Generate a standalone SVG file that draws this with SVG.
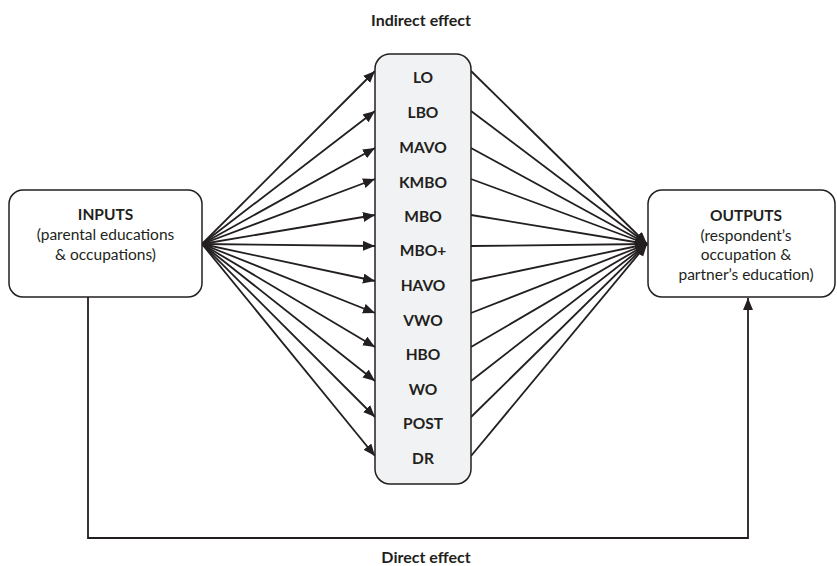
<svg xmlns="http://www.w3.org/2000/svg" width="837" height="566" viewBox="0 0 837 566">
  <style>
    .box { fill: #ffffff; stroke: #231f20; stroke-width: 1.5; }
    .mid { fill: #f1f2f4; stroke: #231f20; stroke-width: 1.5; }
    .edge { fill: none; stroke: #231f20; stroke-width: 1.8; }
    .t { font-family: Lato, "Open Sans", "Liberation Sans", sans-serif; fill: #231f20; text-anchor: middle; }
    .b { font-weight: bold; }
    .lbl { font-size: 15.5px; }
    .cat { font-size: 15.5px; font-weight: bold; }
    .head { font-size: 16px; font-weight: bold; }
  </style>
  <defs>
    <marker id="arrow" markerUnits="userSpaceOnUse" markerWidth="13" markerHeight="11" refX="12" refY="5" orient="auto">
      <path d="M0,0 L12,5 L0,10 z" fill="#231f20"/>
    </marker>
  </defs>

  <rect width="837" height="566" fill="#ffffff"/>

  <!-- connectors -->
  <g id="connectors">
    <!-- inputs fan out to each level -->
    <g id="fan-in">
      <line class="edge" x1="202" y1="244" x2="375" y2="71" marker-end="url(#arrow)"/>
      <line class="edge" x1="202" y1="244" x2="375" y2="111" marker-end="url(#arrow)"/>
      <line class="edge" x1="202" y1="244" x2="375" y2="148" marker-end="url(#arrow)"/>
      <line class="edge" x1="202" y1="244" x2="375" y2="179" marker-end="url(#arrow)"/>
      <line class="edge" x1="202" y1="244" x2="375" y2="215" marker-end="url(#arrow)"/>
      <line class="edge" x1="202" y1="244" x2="375" y2="246" marker-end="url(#arrow)"/>
      <line class="edge" x1="202" y1="244" x2="375" y2="281" marker-end="url(#arrow)"/>
      <line class="edge" x1="202" y1="244" x2="375" y2="313" marker-end="url(#arrow)"/>
      <line class="edge" x1="202" y1="244" x2="375" y2="347" marker-end="url(#arrow)"/>
      <line class="edge" x1="202" y1="244" x2="375" y2="381" marker-end="url(#arrow)"/>
      <line class="edge" x1="202" y1="244" x2="375" y2="417" marker-end="url(#arrow)"/>
      <line class="edge" x1="202" y1="244" x2="375" y2="456" marker-end="url(#arrow)"/>
    </g>
    <!-- each level converges on outputs -->
    <g id="fan-out">
      <line class="edge" x1="471" y1="71" x2="647" y2="244" marker-end="url(#arrow)"/>
      <line class="edge" x1="471" y1="111" x2="647" y2="244" marker-end="url(#arrow)"/>
      <line class="edge" x1="471" y1="148" x2="647" y2="244" marker-end="url(#arrow)"/>
      <line class="edge" x1="471" y1="179" x2="647" y2="244" marker-end="url(#arrow)"/>
      <line class="edge" x1="471" y1="215" x2="647" y2="244" marker-end="url(#arrow)"/>
      <line class="edge" x1="471" y1="246" x2="647" y2="244" marker-end="url(#arrow)"/>
      <line class="edge" x1="471" y1="281" x2="647" y2="244" marker-end="url(#arrow)"/>
      <line class="edge" x1="471" y1="313" x2="647" y2="244" marker-end="url(#arrow)"/>
      <line class="edge" x1="471" y1="347" x2="647" y2="244" marker-end="url(#arrow)"/>
      <line class="edge" x1="471" y1="381" x2="647" y2="244" marker-end="url(#arrow)"/>
      <line class="edge" x1="471" y1="417" x2="647" y2="244" marker-end="url(#arrow)"/>
      <line class="edge" x1="471" y1="456" x2="647" y2="244" marker-end="url(#arrow)"/>
    </g>
    <!-- direct path underneath -->
    <polyline id="direct" class="edge" points="88,297 88,538 748,538 748,298" marker-end="url(#arrow)"/>
  </g>

  <!-- inputs -->
  <g id="inputs">
    <rect class="box" x="9" y="190" width="193" height="107" rx="14"/>
    <text class="t lbl b" x="105.5" y="220">INPUTS</text>
    <text class="t lbl" x="105.5" y="240">(parental educations</text>
    <text class="t lbl" x="105.5" y="259.5">&amp; occupations)</text>
  </g>

  <!-- educational levels -->
  <g id="levels">
    <rect class="mid" x="375" y="54" width="96" height="430" rx="15"/>
    <text class="t cat" x="423" y="82.5">LO</text>
    <text class="t cat" x="423" y="117.5">LBO</text>
    <text class="t cat" x="423" y="153">MAVO</text>
    <text class="t cat" x="423" y="187.5">KMBO</text>
    <text class="t cat" x="423" y="221.5">MBO</text>
    <text class="t cat" x="423" y="255.5">MBO+</text>
    <text class="t cat" x="423" y="290.5">HAVO</text>
    <text class="t cat" x="423" y="325.5">VWO</text>
    <text class="t cat" x="423" y="359.5">HBO</text>
    <text class="t cat" x="423" y="394.5">WO</text>
    <text class="t cat" x="423" y="428.5">POST</text>
    <text class="t cat" x="423" y="463.5">DR</text>
  </g>

  <!-- outputs -->
  <g id="outputs">
    <rect class="box" x="648" y="190" width="187" height="107" rx="14"/>
    <text class="t lbl b" x="746" y="221">OUTPUTS</text>
    <text class="t lbl" x="746" y="240.5">(respondent’s</text>
    <text class="t lbl" x="746" y="260">occupation &amp;</text>
    <text class="t lbl" x="746" y="279.5">partner’s education)</text>
  </g>

  <!-- path captions -->
  <text class="t head" x="421" y="25.5">Indirect effect</text>
  <text class="t head" x="426" y="563">Direct effect</text>
</svg>
